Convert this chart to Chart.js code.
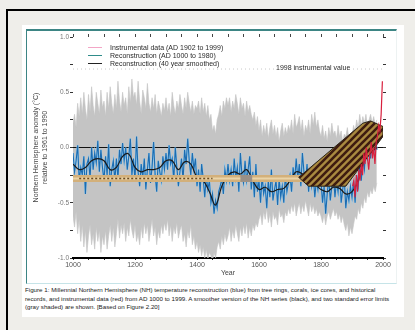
<!DOCTYPE html>
<html>
<head>
<meta charset="utf-8">
<script src="https://cdn.jsdelivr.net/npm/chart.js@4.4.1/dist/chart.umd.min.js"></script>
<style>
html, body { margin: 0; padding: 0; }
body { width: 415px; height: 330px; background: #efeeea; position: relative; overflow: hidden;
       font-family: "Liberation Sans", Arial, sans-serif; }
#frame { position: absolute; left: 6px; top: 9px; width: 430px; height: 340px;
         border-top: 2px solid #000; border-left: 2px solid #000; }
#card { position: absolute; left: 22px; top: 25px; width: 382px; height: 292px; background: #fff; }
#panel { position: absolute; left: 26px; top: 29px; width: 369px; height: 252px;
         border-top: 2px solid #3d8584; border-left: 1.5px solid #3d8584;
         border-bottom: 1px solid #c6e4e8; border-right: 1px solid #edf2f2; }
#wrap { position: absolute; left: 27px; top: 30px; width: 370px; height: 252px; }
.leg { position: absolute; left: 88px; height: 8px; line-height: 8px; font-size: 7px; color: #2a2a2a; white-space: nowrap; }
.sw { display: inline-block; width: 14px; height: 1.5px; vertical-align: middle; margin-right: 8px; }
#note { position: absolute; left: 274px; top: 64px; font-size: 7px; line-height: 8px; color: #2a2a2a;
        background: #fff; padding: 0 2px; white-space: nowrap; }
#caption { position: absolute; left: 25px; top: 286px; width: 372px; font-size: 6.2px; line-height: 8.6px; color: #222; }
</style>
</head>
<body>
<div id="frame"></div>
<div id="card"></div>
<div id="panel"></div>
<div id="wrap"><canvas id="chart"></canvas></div>
<div class="leg" style="top:43.5px"><span class="sw" style="background:#f3a6c6"></span>Instrumental data (AD 1902 to 1999)</div>
<div class="leg" style="top:51.5px"><span class="sw" style="background:#2f8c8a"></span>Reconstruction (AD 1000 to 1980)</div>
<div class="leg" style="top:59.5px"><span class="sw" style="background:#222"></span>Reconstruction (40 year smoothed)</div>
<div id="note">1998 instrumental value</div>
<div id="caption">Figure 1: Millennial Northern Hemisphere (NH) temperature reconstruction (blue) from tree rings, corals, ice cores, and historical records, and instrumental data (red) from AD 1000 to 1999. A smoother version of the NH series (black), and two standard error limits (gray shaded) are shown. [Based on Figure 2.20]</div>
<script>
// reconstruction, every 5 years from AD 1000 to 1980
var reconStart = 1000;
var reconStep = 5;
var reconstruction = [
  -0.05,-0.22,-0.12,0.02,-0.3,-0.18,-0.25,-0.08,-0.42,-0.15,-0.1,-0.28,0.0,-0.2,-0.05,-0.14,0.06,-0.22,-0.02,-0.18,
  -0.3,-0.08,-0.25,0.03,-0.35,-0.2,-0.12,-0.3,-0.1,-0.28,-0.02,-0.15,0.04,-0.12,0.0,-0.2,-0.08,0.08,-0.25,-0.1,
  -0.3,0.1,-0.22,-0.35,-0.15,-0.28,-0.1,-0.38,-0.2,-0.05,-0.32,-0.18,0.05,-0.25,-0.4,-0.12,-0.22,-0.3,-0.08,-0.2,
  -0.05,-0.2,0.02,-0.15,-0.1,-0.3,0.0,-0.18,-0.35,-0.22,-0.1,-0.3,-0.02,-0.15,0.08,-0.12,-0.25,-0.05,-0.2,-0.1,
  -0.35,-0.2,-0.4,-0.15,-0.28,-0.45,-0.25,-0.38,-0.3,-0.5,-0.42,-0.6,-0.48,-0.55,-0.4,-0.35,-0.28,-0.42,-0.2,-0.3,
  -0.15,-0.3,-0.2,-0.35,-0.1,-0.28,-0.18,-0.4,-0.05,-0.25,-0.32,-0.12,-0.3,-0.2,-0.08,-0.38,-0.22,-0.45,-0.15,-0.4,
  -0.3,-0.5,-0.25,-0.42,-0.35,-0.55,-0.3,-0.45,-0.2,-0.48,-0.38,-0.3,-0.52,-0.28,-0.45,-0.35,-0.5,-0.25,-0.4,-0.32,
  -0.25,-0.4,-0.18,-0.3,-0.1,-0.28,-0.15,-0.35,-0.05,-0.22,-0.3,-0.15,-0.4,-0.2,-0.35,-0.25,-0.45,-0.3,-0.38,-0.22,
  -0.3,-0.5,-0.35,-0.6,-0.42,-0.28,-0.48,-0.35,-0.25,-0.45,-0.3,-0.4,-0.2,-0.5,-0.38,-0.28,-0.55,-0.4,-0.48,-0.35,
  -0.45,-0.3,-0.5,-0.25,-0.35,-0.15,-0.3,-0.1,-0.2,0.02,-0.12,0.05,-0.1,0.1,-0.05,0.12,-0.02
];
// two standard error limits, same years
var errorUpper = [
  0.22,0.3,0.18,0.4,0.28,0.45,0.3,0.5,0.35,0.25,0.48,0.32,0.55,0.38,0.28,0.5,0.4,0.3,0.52,0.36,
  0.42,0.28,0.5,0.35,0.55,0.4,0.3,0.48,0.35,0.6,0.42,0.32,0.5,0.38,0.45,0.3,0.55,0.4,0.62,0.45,
  0.5,0.38,0.6,0.42,0.3,0.52,0.45,0.35,0.58,0.4,0.32,0.45,0.35,0.48,0.3,0.42,0.36,0.28,0.4,0.33,
  0.45,0.32,0.4,0.28,0.5,0.38,0.3,0.42,0.35,0.48,0.38,0.3,0.45,0.35,0.5,0.4,0.32,0.42,0.3,0.38,
  0.35,0.42,0.3,0.45,0.32,0.4,0.28,0.38,0.25,0.3,0.15,0.2,0.12,0.25,0.3,0.38,0.28,0.42,0.35,0.45,
  0.38,0.45,0.32,0.42,0.35,0.48,0.4,0.3,0.45,0.35,0.4,0.28,0.42,0.32,0.38,0.3,0.25,0.32,0.2,0.28,
  0.15,0.25,0.1,0.2,0.12,0.22,0.08,0.18,0.25,0.12,0.2,0.1,0.18,0.05,0.15,0.22,0.1,0.18,0.12,0.2,
  0.15,0.25,0.12,0.3,0.18,0.22,0.28,0.15,0.25,0.1,0.2,0.15,0.25,0.12,0.3,0.2,0.32,0.18,0.25,0.15,
  0.1,0.2,0.08,0.15,0.05,0.18,0.1,0.22,0.12,0.15,0.08,0.2,0.1,0.15,0.05,0.12,0.1,0.18,0.08,0.12,
  0.1,0.2,0.15,0.25,0.18,0.3,0.2,0.28,0.22,0.3,0.18,0.25,0.3,0.22,0.28,0.2,0.25
];
var errorLower = [
  -0.62,-0.72,-0.58,-0.78,-0.65,-0.85,-0.7,-0.9,-0.75,-0.95,-0.8,-0.7,-0.88,-0.78,-0.92,-0.72,-0.85,-0.75,-0.95,-0.8,
  -0.88,-0.75,-0.92,-0.8,-0.7,-0.85,-0.72,-0.9,-0.78,-0.65,-0.82,-0.7,-0.78,-0.68,-0.85,-0.72,-0.8,-0.65,-0.75,-0.82,
  -0.7,-0.85,-0.78,-0.88,-0.72,-0.82,-0.68,-0.78,-0.7,-0.85,-0.75,-0.65,-0.8,-0.72,-0.88,-0.75,-0.82,-0.7,-0.78,-0.68,
  -0.75,-0.65,-0.8,-0.7,-0.85,-0.72,-0.78,-0.68,-0.82,-0.75,-0.7,-0.85,-0.78,-0.9,-0.75,-0.82,-0.7,-0.88,-0.8,-0.92,
  -0.85,-0.95,-0.88,-0.98,-0.9,-1.0,-0.92,-1.02,-0.95,-0.98,-1.03,-0.95,-1.0,-0.9,-0.85,-0.92,-0.8,-0.88,-0.78,-0.85,
  -0.8,-0.72,-0.85,-0.75,-0.82,-0.7,-0.78,-0.85,-0.72,-0.8,-0.7,-0.78,-0.68,-0.82,-0.72,-0.8,-0.7,-0.75,-0.68,-0.72,
  -0.65,-0.6,-0.7,-0.58,-0.65,-0.55,-0.68,-0.6,-0.72,-0.58,-0.65,-0.62,-0.7,-0.55,-0.63,-0.6,-0.68,-0.58,-0.62,-0.55,
  -0.6,-0.52,-0.58,-0.5,-0.62,-0.55,-0.5,-0.6,-0.52,-0.58,-0.48,-0.55,-0.62,-0.5,-0.58,-0.52,-0.6,-0.55,-0.62,-0.58,
  -0.62,-0.68,-0.6,-0.7,-0.62,-0.58,-0.65,-0.6,-0.55,-0.62,-0.58,-0.65,-0.6,-0.68,-0.62,-0.7,-0.75,-0.68,-0.8,-0.72,
  -0.78,-0.7,-0.62,-0.65,-0.55,-0.6,-0.5,-0.55,-0.45,-0.5,-0.4,-0.45,-0.38,-0.42,-0.35,-0.4,-0.32
];
// 40 year smoothed series, every 20 years
var smoothYears = [1000,1020,1040,1060,1080,1100,1120,1140,1160,1180,1200,1220,1240,1260,1280,1300,1320,1340,1360,1380,
  1400,1420,1440,1460,1480,1500,1520,1540,1560,1580,1600,1620,1640,1660,1680,1700,1720,1740,1760,1780,
  1800,1820,1840,1860,1880,1900,1920,1940,1960,1980];
var smoothed = [-0.15,-0.2,-0.18,-0.12,-0.1,-0.12,-0.2,-0.18,-0.08,-0.06,-0.18,-0.22,-0.2,-0.2,-0.18,-0.12,-0.12,-0.2,-0.13,-0.15,
  -0.27,-0.3,-0.4,-0.52,-0.35,-0.25,-0.22,-0.24,-0.2,-0.3,-0.38,-0.36,-0.4,-0.38,-0.37,-0.3,-0.22,-0.24,-0.3,-0.33,
  -0.38,-0.4,-0.36,-0.37,-0.42,-0.4,-0.3,-0.12,-0.05,0.0];
// instrumental record
var instrumentalYears = [1902,1906,1910,1914,1918,1922,1926,1930,1934,1938,1942,1946,1950,1954,1958,1962,1966,1970,1974,1978,1982,1986,1990,1994,1998];
var instrumental = [-0.35,-0.3,-0.45,-0.25,-0.4,-0.2,-0.3,-0.15,-0.25,-0.05,-0.15,0.0,-0.1,-0.2,-0.05,0.05,-0.1,0.0,-0.15,0.05,0.1,0.2,0.15,0.3,0.6];
var value1998 = 0.71;
var zeroYears = [1000, 2000];
var zeroLevel = [0, 0];
// the hockey stick drawn over the data
var shaftYears = [1000, 1740];
var shaftLevel = [-0.28, -0.28];
var tapeYears = [1020, 1450];
var wrapYears = [1540, 1578];
var bladeYears = [1728, 1760, 1880, 2000, 2000, 1960, 1935, 1728];
var bladeValues = [-0.27, -0.35, -0.35, 0.1, 0.19, 0.24, 0.22, -0.27];

function pts(xs, ys) { return xs.map(function (x, i) { return {x: x, y: ys[i]}; }); }
function flat(xs, v) { return xs.map(function (x) { return {x: x, y: v}; }); }
var reconYears = reconstruction.map(function (_, i) { return reconStart + i * reconStep; });

var ctx = document.getElementById('chart').getContext('2d');
// diagonal tape stripes for the blade
var tile = document.createElement('canvas');
tile.width = 7; tile.height = 7;
var t = tile.getContext('2d');
t.fillStyle = '#a98a40'; t.fillRect(0, 0, 7, 7);
t.strokeStyle = '#3e1c10'; t.lineWidth = 2.6;
t.beginPath();
t.moveTo(-1, 8); t.lineTo(8, -1);
t.moveTo(-4.5, 4.5); t.lineTo(4.5, -4.5);
t.moveTo(2.5, 11.5); t.lineTo(11.5, 2.5);
t.stroke();
var stripes = ctx.createPattern(tile, 'repeat');

var font = '"Liberation Sans", Arial, sans-serif';
var line = {pointRadius: 0, fill: false, tension: 0};

new Chart(ctx, {
  type: 'line',
  data: {
    datasets: [
      Object.assign({}, line, {label: 'upper', data: pts(reconYears, errorUpper), borderColor: '#c2c2c2', borderWidth: 0.6,
        backgroundColor: '#c4c4c4', fill: '+1', order: 21}),
      Object.assign({}, line, {label: 'lower', data: pts(reconYears, errorLower), borderColor: '#c2c2c2', borderWidth: 0.6, order: 22}),
      Object.assign({}, line, {label: '1998', data: flat(zeroYears, value1998), borderColor: '#c8c8c8', borderWidth: 1, borderDash: [1, 3], order: 20}),
      Object.assign({}, line, {label: 'zero', data: pts(zeroYears, zeroLevel), borderColor: '#111', borderWidth: 1.2, order: 19}),
      Object.assign({}, line, {label: 'recon light', data: pts(reconYears, reconstruction), borderColor: '#95cdf0', borderWidth: 1.8, order: 18}),
      Object.assign({}, line, {label: 'Reconstruction (AD 1000 to 1980)', data: pts(reconYears, reconstruction), borderColor: '#1d6cb0', borderWidth: 1.1, order: 17}),
      Object.assign({}, line, {label: 'Reconstruction (40 year smoothed)', data: pts(smoothYears, smoothed), borderColor: '#1a1a1a', borderWidth: 1.2, tension: 0.4, order: 16}),
      Object.assign({}, line, {label: 'shaft', data: pts(shaftYears, shaftLevel), borderColor: '#d3b07a', borderWidth: 7, borderCapStyle: 'round', order: 15}),
      Object.assign({}, line, {label: 'shaft shine', data: pts(shaftYears, shaftLevel), borderColor: '#ead4a8', borderWidth: 2, order: 14}),
      Object.assign({}, line, {label: 'tape', data: flat(tapeYears, shaftLevel[0]), borderColor: '#6b4a22', borderWidth: 1.5, borderDash: [2, 2], order: 13}),
      Object.assign({}, line, {label: 'wrap', data: flat(wrapYears, shaftLevel[0]), borderColor: '#9a9086', borderWidth: 7, order: 12}),
      Object.assign({}, line, {label: 'blade', data: pts(bladeYears, bladeValues), borderColor: '#2b2418', borderWidth: 1,
        backgroundColor: stripes, fill: 'shape', order: 11}),
      Object.assign({}, line, {label: 'Instrumental data (AD 1902 to 1999)', data: pts(instrumentalYears, instrumental), borderColor: '#d8203e', borderWidth: 1.2, order: 10})
    ]
  },
  options: {
    responsive: true,
    maintainAspectRatio: false,
    animation: false,
    devicePixelRatio: 1,
    layout: {padding: 0},
    plugins: {legend: {display: false}, tooltip: {enabled: false}},
    scales: {
      x: {
        type: 'linear', position: 'bottom', min: 1000, max: 2000,
        afterFit: function (s) { s.height = 24; },
        ticks: {stepSize: 50, autoSkip: false, maxRotation: 0, padding: 1, color: '#555', font: {family: font, size: 7},
          callback: function (v) { return v % 200 === 0 ? String(v) : ''; }},
        grid: {drawOnChartArea: false, tickLength: 2, tickColor: '#222'},
        border: {display: true, color: '#000', width: 2},
        title: {display: true, text: 'Year', color: '#444', font: {family: font, size: 7}, padding: {top: 0, bottom: 5}}
      },
      x2: {
        type: 'linear', position: 'top', min: 1000, max: 2000,
        afterFit: function (s) { s.height = 7; },
        ticks: {display: false, stepSize: 50, autoSkip: false},
        grid: {drawOnChartArea: false, tickLength: 3, tickColor: '#444'},
        border: {display: false}
      },
      y: {
        type: 'linear', position: 'left', min: -1, max: 1,
        afterFit: function (s) { s.width = 46; },
        ticks: {stepSize: 0.25, autoSkip: false, padding: 1, color: '#777', font: {family: font, size: 6.5},
          callback: function (v) { return Math.abs(v * 2 - Math.round(v * 2)) < 1e-6 ? v.toFixed(1) : ''; }},
        grid: {drawOnChartArea: false, tickLength: 3, tickColor: '#333'},
        border: {display: false},
        title: {display: true, text: ['Northern Hemisphere anomaly (\u00B0C)', 'relative to 1961 to 1990'],
          color: '#444', font: {family: font, size: 7}, padding: {top: 5, bottom: 0}}
      },
      y2: {
        type: 'linear', position: 'right', min: -1, max: 1,
        afterFit: function (s) { s.width = 14; },
        ticks: {display: false, stepSize: 0.25},
        grid: {drawOnChartArea: false, tickLength: 3, tickColor: '#333'},
        border: {display: false}
      }
    }
  }
});
</script>
</body>
</html>
